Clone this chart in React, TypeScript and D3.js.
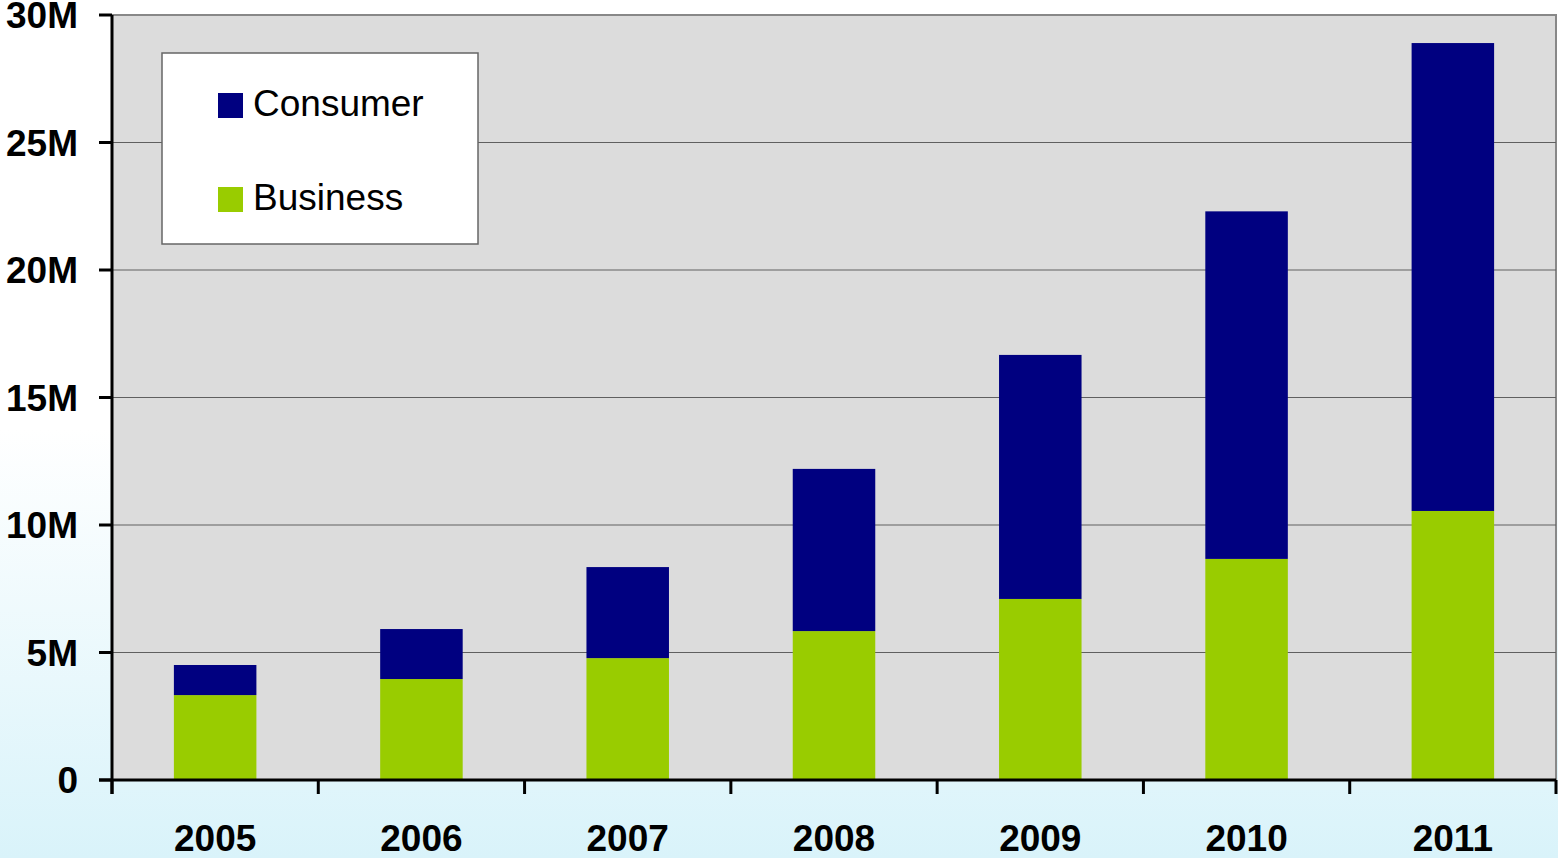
import React from 'react';
import * as d3 from 'd3';

const years = ['2005', '2006', '2007', '2008', '2009', '2010', '2011'];
const business = [3.33, 3.96, 4.78, 5.84, 7.1, 8.67, 10.55];
const consumer = [1.18, 1.96, 3.57, 6.36, 9.57, 13.63, 18.35];
const yTicks = [0, 5, 10, 15, 20, 25, 30];
const seriesNames = ['Business', 'Consumer'];
const seriesColors = ['#99cc00', '#000080'];

const W = 1558;
const H = 858;
const M = { left: 112, right: 2, top: 15, bottom: 78 };

const App: React.FC = () => {
  const x = d3
    .scaleBand<string>()
    .domain(years)
    .range([M.left, W - M.right])
    .paddingInner(0.6)
    .paddingOuter(0.3);
  const y = d3.scaleLinear().domain([0, 30]).range([H - M.bottom, M.top]);

  const rows = years.map((yr, i) => ({ year: yr, Business: business[i], Consumer: consumer[i] }));
  const stacked = d3.stack<any>().keys(seriesNames)(rows);

  // band boundaries for the category ticks
  const step = x.step();
  const boundaries = d3.range(years.length + 1).map((i) => M.left + i * step - (i === 0 ? 0 : 0));

  const font = '"Liberation Sans", Arial, sans-serif';
  const x0 = M.left;
  const x1 = W - M.right;
  const yBase = y(0);

  return (
    <svg width={W} height={H} style={{ position: 'absolute', left: 0, top: 0 }} fontFamily={font}>
      <defs>
        <linearGradient id="bg" x1="0" y1="0" x2="0" y2="1">
          <stop offset="0.5" stopColor="#ffffff" />
          <stop offset="1" stopColor="#d9f3fa" />
        </linearGradient>
      </defs>
      <rect x={0} y={0} width={W} height={H} fill="url(#bg)" />

      {/* plot area */}
      <rect x={x0} y={y(30)} width={x1 - x0} height={yBase - y(30)} fill="#dcdcdc" stroke="#888" strokeWidth={2} />

      {yTicks.filter((t) => t > 0 && t < 30).map((t) => (
        <line key={t} x1={x0} x2={x1} y1={y(t)} y2={y(t)} stroke="#606060" strokeWidth={1} />
      ))}

      {stacked.map((s, si) =>
        s.map((d, i) => (
          <rect
            key={`${si}-${i}`}
            x={x(years[i])!}
            width={x.bandwidth()}
            y={y(d[1])}
            height={y(d[0]) - y(d[1])}
            fill={seriesColors[si]}
          />
        ))
      )}

      {/* axes */}
      <line x1={x0} x2={x0} y1={y(30)} y2={yBase + 14} stroke="#000" strokeWidth={3} />
      <line x1={x0 - 13} x2={x1} y1={yBase} y2={yBase} stroke="#000" strokeWidth={3} />
      {yTicks.map((t) => (
        <g key={t}>
          <line x1={x0 - 13} x2={x0} y1={y(t)} y2={y(t)} stroke="#000" strokeWidth={3} />
          <text x={78} y={y(t) + 13} textAnchor="end" fontSize={37} fontWeight="bold" fill="#000">
            {t === 0 ? '0' : `${t}M`}
          </text>
        </g>
      ))}
      {boundaries.map((bx, i) => (
        <line key={i} x1={bx} x2={bx} y1={yBase} y2={yBase + 14} stroke="#000" strokeWidth={3} />
      ))}
      {years.map((yr) => (
        <text
          key={yr}
          x={x(yr)! + x.bandwidth() / 2}
          y={851}
          textAnchor="middle"
          fontSize={37}
          fontWeight="bold"
          fill="#000"
        >
          {yr}
        </text>
      ))}

      {/* legend */}
      <rect x={162} y={53} width={316} height={191} fill="#fff" stroke="#666" strokeWidth={1.5} />
      {[1, 0].map((si, k) => (
        <g key={si} transform={`translate(218, ${93 + k * 94})`}>
          <rect x={0} y={0} width={25} height={25} fill={seriesColors[si]} />
          <text x={35} y={23} fontSize={37} fill="#000">
            {seriesNames[si]}
          </text>
        </g>
      ))}
    </svg>
  );
};

export default App;
